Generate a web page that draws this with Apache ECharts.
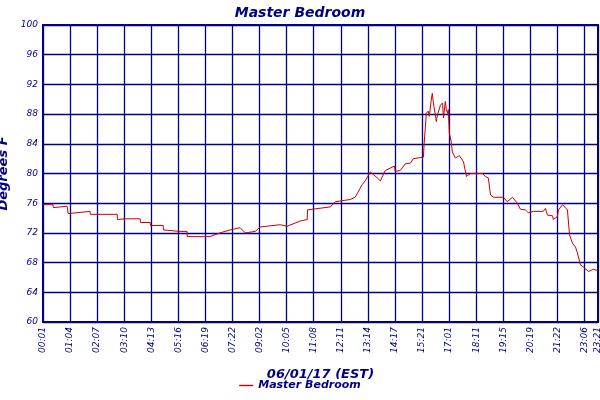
<!DOCTYPE html>
<html><head><meta charset="utf-8">
<script src="https://cdn.jsdelivr.net/npm/echarts@6/dist/echarts.min.js"></script>
<style>html,body{margin:0;padding:0;background:#fff}#c{width:600px;height:400px}</style>
</head><body><div id="c"></div>
<script>
const timeLabels = ["00:01","01:04","02:07","03:10","04:13","05:16","06:19","07:22","09:02","10:05","11:08","12:11","13:14","14:17","15:21","17:01","18:11","19:15","20:19","21:22","23:06","23:21"];
const labelPos = [0,10,20,30,40,50,60,70,80,90,100,110,120,130,140,150,160,170,180,190,200,205];
const t = [0,3.7,3.8,8.9,9.2,9.3,17.4,17.5,27.4,27.5,30.3,35.9,36,39.6,39.7,44.4,44.5,50.6,53.2,53.3,61.7,65.4,69.1,72.8,74.7,78.4,80.2,87.6,90.2,95,97.6,97.7,106.1,108,113.5,115.3,117.9,119,120.9,123.5,124.6,126.4,129.8,130.1,132,133.8,135.7,136.8,138.6,140.5,140.8,141.6,142.3,142.7,143.4,143.8,144.2,145.3,145.7,146.8,147.6,147.9,148.6,149,149.4,149.7,150.1,150.8,151.2,152.3,153.8,155.3,156.4,157.9,162.3,163.4,164.5,165.3,166.4,170.1,171.5,173.4,175.2,176.3,178.2,179.3,181.1,184.8,185.6,186.3,188.2,188.5,190,190.4,191.9,193.7,194.5,195.6,196.7,197.4,198.5,199.6,201.5,203.3,205];
const temp = [75.8,75.8,75.4,75.6,75.6,74.6,74.9,74.5,74.5,73.8,73.9,73.9,73.4,73.4,73.0,73.0,72.4,72.2,72.2,71.5,71.5,72.0,72.4,72.7,72.0,72.2,72.8,73.1,72.9,73.6,73.8,75.1,75.5,76.2,76.5,76.8,78.5,79.0,80.2,79.4,79.0,80.4,81.0,80.3,80.4,81.3,81.4,82.0,82.1,82.2,84.1,88.1,88.4,87.7,89.9,90.8,89.5,87.0,87.9,89.2,89.5,87.5,89.7,88.6,88.1,88.6,85.4,84.3,82.9,82.1,82.4,81.6,79.6,80.0,80.0,79.6,79.4,77.1,76.8,76.8,76.2,76.8,76.0,75.2,75.1,74.7,74.9,74.9,75.3,74.4,74.3,73.8,74.2,75.1,75.8,75.1,71.7,70.6,70.1,69.3,67.7,67.4,66.8,67.1,66.9];
const yTicks = [60,64,68,72,76,80,84,88,92,96,100];
const seriesName = "Master Bedroom";
const navy = "#000080";
const font = "DejaVu Sans";
const chart = echarts.init(document.getElementById('c'));
chart.setOption({
  backgroundColor:'#fff', animation:false,
  title:{text:seriesName,left:'center',top:1,textStyle:{color:navy,fontFamily:font,fontStyle:'italic',fontWeight:'bold',fontSize:14}},
  grid:{left:43,right:2,top:25,bottom:78,containLabel:false,outerBoundsMode:'none',show:true,borderColor:navy,borderWidth:2},
  legend:{bottom:4,left:'center',icon:'path://M0,0H20V2H0Z',itemWidth:14,itemHeight:2,itemGap:4,textStyle:{color:navy,fontFamily:font,fontStyle:'italic',fontWeight:'bold',fontSize:11}},
  xAxis:{type:'value',min:0,max:205,interval:10,
    name:'06/01/17 (EST)',nameLocation:'middle',nameGap:46,nameTextStyle:{color:navy,fontFamily:font,fontStyle:'italic',fontWeight:'bold',fontSize:13},
    axisLine:{lineStyle:{color:navy,width:2}},axisTick:{show:false},
    splitLine:{lineStyle:{color:navy,width:1.3}},
    axisLabel:{rotate:90,margin:5,color:navy,fontFamily:font,fontStyle:'italic',fontSize:9,showMaxLabel:true,hideOverlap:false,
      formatter:v=>{const i=labelPos.indexOf(Math.round(v));return i>=0?timeLabels[i]:'';}}},
  yAxis:{type:'value',min:yTicks[0],max:yTicks[yTicks.length-1],interval:4,
    name:'Degrees F',nameLocation:'middle',nameGap:28,nameTextStyle:{color:navy,fontFamily:font,fontStyle:'italic',fontWeight:'bold',fontSize:13},
    axisLine:{lineStyle:{color:navy,width:2}},axisTick:{show:false},
    splitLine:{lineStyle:{color:navy,width:1.3}},
    axisLabel:{margin:5,color:navy,fontFamily:font,fontStyle:'italic',fontSize:9}},
  series:[{name:seriesName,type:'line',showSymbol:false,symbol:'none',
    data:t.map((x,i)=>[x,temp[i]]),lineStyle:{color:'#cc0000',width:1},itemStyle:{color:'#cc0000'}}]
});
</script></body></html>
